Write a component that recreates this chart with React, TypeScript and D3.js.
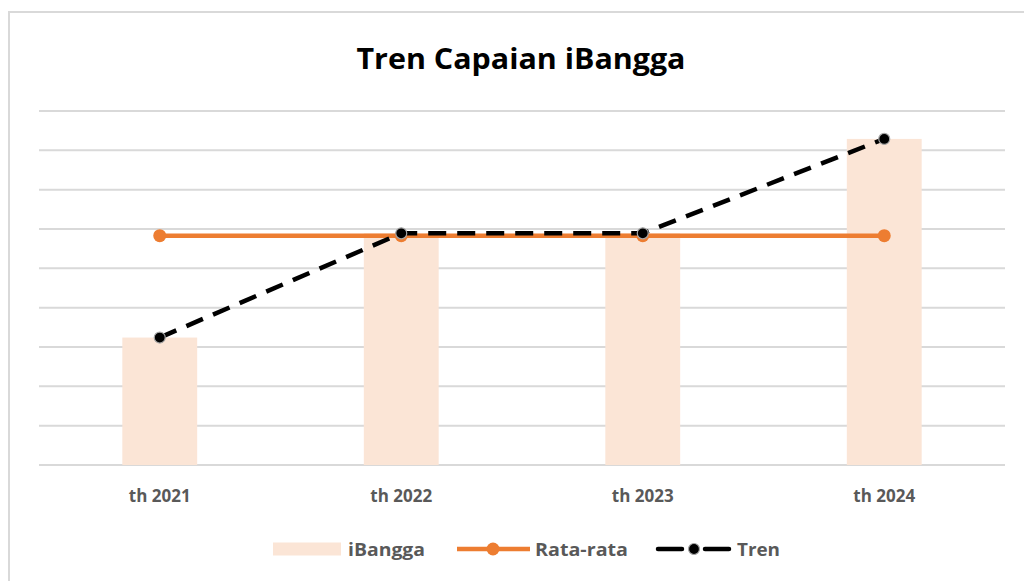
import React, { useEffect, useRef } from "react";
import * as d3 from "d3";

const categories = ["th 2021", "th 2022", "th 2023", "th 2024"];
const ibangga = [32.4, 58.9, 58.9, 82.9];
const tren = [32.4, 58.9, 58.9, 82.9];
const rataRata = [58.3, 58.3, 58.3, 58.3];
const gridTicks = [0, 10, 20, 30, 40, 50, 60, 70, 80, 90];

const FONT = "'Open Sans', sans-serif";

export default function App() {
  const ref = useRef<SVGSVGElement>(null);

  useEffect(() => {
    const svg = d3.select(ref.current);
    svg.selectAll("*").remove();

    const left = 39, right = 1005, top = 111, bottom = 465;

    // frame of the chart area
    svg.append("path")
      .attr("d", "M9,581 L9,12 L1024,12")
      .attr("fill", "none")
      .attr("stroke", "#d9d9d9")
      .attr("stroke-width", 2);

    svg.append("text")
      .attr("x", 521)
      .attr("y", 69)
      .attr("text-anchor", "middle")
      .attr("font-family", FONT)
      .attr("font-weight", "bold")
      .attr("font-size", 29)
      .attr("textLength", 329)
      .attr("lengthAdjust", "spacingAndGlyphs")
      .attr("fill", "#000")
      .text("Tren Capaian iBangga");

    const x = d3.scaleBand().domain(categories).range([left, right]).paddingInner(0.69).paddingOuter(0.345);
    const y = d3.scaleLinear().domain([0, 90]).range([bottom, top]);
    const cx = (c: string) => (x(c) as number) + x.bandwidth() / 2;

    // gridlines
    svg.append("g").selectAll("line").data(gridTicks).enter().append("line")
      .attr("x1", left).attr("x2", right)
      .attr("y1", (d) => y(d)).attr("y2", (d) => y(d))
      .attr("stroke", "#d9d9d9")
      .attr("stroke-width", 2);

    // bars
    svg.append("g").selectAll("rect").data(ibangga).enter().append("rect")
      .attr("x", (d, i) => x(categories[i]) as number)
      .attr("y", (d) => y(d))
      .attr("width", x.bandwidth())
      .attr("height", (d) => bottom - y(d))
      .attr("fill", "#fbe5d6");

    // x labels
    svg.append("g").selectAll("text").data(categories).enter().append("text")
      .attr("x", (d) => cx(d))
      .attr("y", 502)
      .attr("text-anchor", "middle")
      .attr("font-family", FONT)
      .attr("font-weight", "bold")
      .attr("font-size", 17)
      .attr("fill", "#595959")
      .text((d) => d);

    const line = d3.line<number>().x((d, i) => cx(categories[i])).y((d) => y(d));

    // Rata-rata
    svg.append("path")
      .datum(rataRata)
      .attr("d", line)
      .attr("fill", "none")
      .attr("stroke", "#ed7d31")
      .attr("stroke-width", 4.5);
    svg.append("g").selectAll("circle").data(rataRata).enter().append("circle")
      .attr("cx", (d, i) => cx(categories[i]))
      .attr("cy", (d) => y(d))
      .attr("r", 6.5)
      .attr("fill", "#ed7d31");

    // Tren
    svg.append("path")
      .datum(tren)
      .attr("d", line)
      .attr("fill", "none")
      .attr("stroke", "#000")
      .attr("stroke-width", 4.5)
      .attr("stroke-dasharray", "18,11");
    svg.append("g").selectAll("circle").data(tren).enter().append("circle")
      .attr("cx", (d, i) => cx(categories[i]))
      .attr("cy", (d) => y(d))
      .attr("r", 5.5)
      .attr("fill", "#000")
      .attr("stroke", "#a6a6a6")
      .attr("stroke-width", 1.2);

    // legend
    const lg = svg.append("g");
    const ly = 549;
    lg.append("rect").attr("x", 273).attr("y", ly - 6.5).attr("width", 68).attr("height", 13).attr("fill", "#fbe5d6");
    lg.append("line").attr("x1", 457).attr("x2", 530).attr("y1", ly).attr("y2", ly)
      .attr("stroke", "#ed7d31").attr("stroke-width", 4.5);
    lg.append("circle").attr("cx", 493).attr("cy", ly).attr("r", 6.5).attr("fill", "#ed7d31");
    lg.append("line").attr("x1", 658).attr("x2", 729).attr("y1", ly).attr("y2", ly)
      .attr("stroke", "#000").attr("stroke-width", 4.5).attr("stroke-linecap", "round")
      .attr("stroke-dasharray", "24,23");
    lg.append("circle").attr("cx", 694).attr("cy", ly).attr("r", 5.5).attr("fill", "#000")
      .attr("stroke", "#a6a6a6").attr("stroke-width", 1.2);

    const legendText = [
      { t: "iBangga", x: 348, w: 77 },
      { t: "Rata-rata", x: 535, w: 93 },
      { t: "Tren", x: 737, w: 43 },
    ];
    lg.selectAll("text").data(legendText).enter().append("text")
      .attr("x", (d) => d.x)
      .attr("y", ly + 6.5)
      .attr("font-family", FONT)
      .attr("font-weight", "bold")
      .attr("font-size", 18)
      .attr("textLength", (d) => d.w)
      .attr("lengthAdjust", "spacingAndGlyphs")
      .attr("fill", "#595959")
      .text((d) => d.t);
  }, []);

  return (
    <svg
      ref={ref}
      width={1024}
      height={581}
      style={{ position: "absolute", left: 0, top: 0, background: "#fff" }}
    />
  );
}
